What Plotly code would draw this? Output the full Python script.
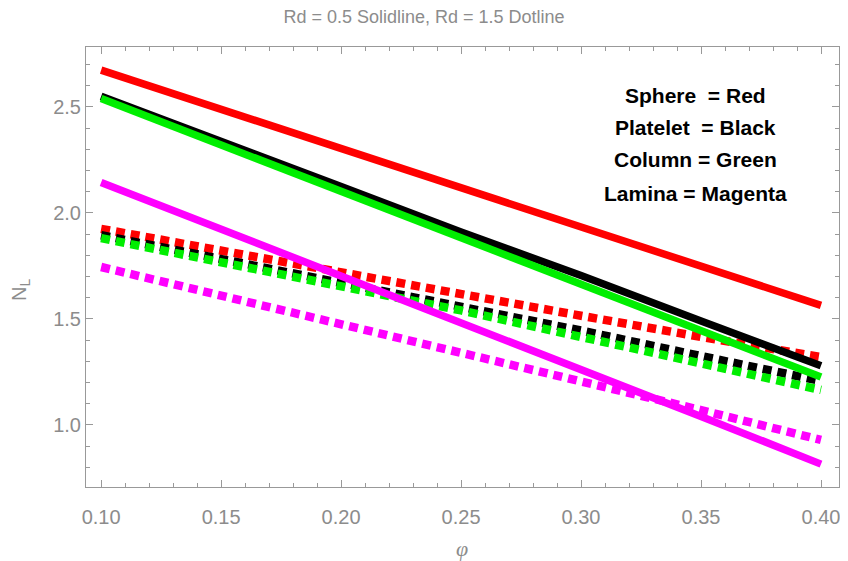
import plotly.graph_objects as go

phi = [0.10, 0.15, 0.20, 0.25, 0.30, 0.35, 0.40]

# Rd = 0.5 (solid)
sphere_solid   = [2.674, 2.49, 2.30, 2.12, 1.94, 1.75, 1.564]
platelet_solid = [2.55, 2.34, 2.125, 1.91, 1.705, 1.49, 1.279]
column_solid   = [2.54, 2.32, 2.10, 1.885, 1.665, 1.445, 1.226]
lamina_solid   = [2.144, 1.925, 1.705, 1.485, 1.265, 1.04, 0.815]

# Rd = 1.5 (dotted)
sphere_dot   = [1.925, 1.82, 1.72, 1.615, 1.515, 1.415, 1.32]
platelet_dot = [1.895, 1.785, 1.67, 1.56, 1.445, 1.325, 1.207]
column_dot   = [1.881, 1.77, 1.655, 1.54, 1.415, 1.29, 1.165]
lamina_dot   = [1.745, 1.61, 1.475, 1.34, 1.21, 1.07, 0.929]

legend_lines = ["Sphere  = Red", "Platelet  = Black", "Column = Green", "Lamina = Magenta"]

RED, BLACK, GREEN, MAGENTA = "#ff0000", "#000000", "#00ee00", "#ff00ff"
GRAY = "#8c8c8c"
AXIS = "#999999"
FONT = "Liberation Sans, Arial, sans-serif"

# page has an 8px body margin: figure coords = page coords - 8
OFF = 8
FW, FH = 840, 553
PL, PT, PR, PB = 86 - OFF, 47 - OFF, 839 - OFF, 487 - OFF
PW, PH = PR - PL, PB - PT

fig = go.Figure()

for ys, c in [(sphere_dot, RED), (platelet_dot, BLACK), (column_dot, GREEN), (lamina_dot, MAGENTA)]:
    fig.add_trace(go.Scatter(x=phi, y=ys, mode="lines",
                             line=dict(color=c, width=8.5, dash="9px,6px"),
                             showlegend=False, hoverinfo="skip"))

for ys, c in [(sphere_solid, RED), (platelet_solid, BLACK), (column_solid, GREEN), (lamina_solid, MAGENTA)]:
    fig.add_trace(go.Scatter(x=phi, y=ys, mode="lines",
                             line=dict(color=c, width=7.5),
                             showlegend=False, hoverinfo="skip"))

axis_common = dict(showline=True, linecolor=AXIS, linewidth=1, mirror="ticks",
                   ticks="inside", ticklen=7, tickcolor=AXIS, tickwidth=1,
                   showgrid=False, zeroline=False,
                   tickfont=dict(family=FONT, size=20, color=GRAY))

fig.update_xaxes(range=[0.0937, 0.4075], tick0=0.10, dtick=0.05, tickformat=".2f",
                 minor=dict(dtick=0.01, ticks="inside", ticklen=4, tickcolor=AXIS, tickwidth=1),
                 ticklabelstandoff=12,
                 **axis_common)
fig.update_yaxes(range=[0.707, 2.783], tick0=1.0, dtick=0.5, tickformat=".1f",
                 minor=dict(dtick=0.1, ticks="inside", ticklen=4, tickcolor=AXIS, tickwidth=1),
                 **axis_common)

# axis titles as annotations (placed in page pixels)
fig.add_annotation(x=(462 - 86) / PW, y=-(548 - 487) / PH, xref="paper", yref="paper",
                   text="<i>φ</i>", showarrow=False, xanchor="center", yanchor="middle",
                   font=dict(family="Liberation Serif, serif", size=22, color=GRAY))
fig.add_annotation(x=(20 - 86) / PW, y=1 - (290 - 47) / PH, xref="paper", yref="paper",
                   text="N<sub>L</sub>", showarrow=False, xanchor="center", yanchor="middle",
                   textangle=-90, font=dict(family=FONT, size=20, color=GRAY))

ys_px = [96, 127, 159, 193]
for txt, yp in zip(legend_lines, ys_px):
    fig.add_annotation(x=(695 - 86) / PW, y=1 - (yp - 47) / PH, xref="paper", yref="paper",
                       text="<b>" + txt.replace("  ", "&nbsp; ") + "</b>", showarrow=False,
                       xanchor="center", yanchor="middle",
                       font=dict(family=FONT, size=21, color="#000000"))

fig.update_layout(
    width=FW, height=FH,
    margin=dict(l=PL, r=FW - PR, t=PT, b=FH - PB, autoexpand=False),
    paper_bgcolor="white", plot_bgcolor="white",
    title=dict(text="Rd = 0.5 Solidline, Rd = 1.5 Dotline", x=(424 - OFF) / FW, xanchor="center",
               y=1 - (17 - OFF) / FH, yanchor="middle",
               font=dict(family=FONT, size=18, color=GRAY)),
)

fig.write_html("out.html")
